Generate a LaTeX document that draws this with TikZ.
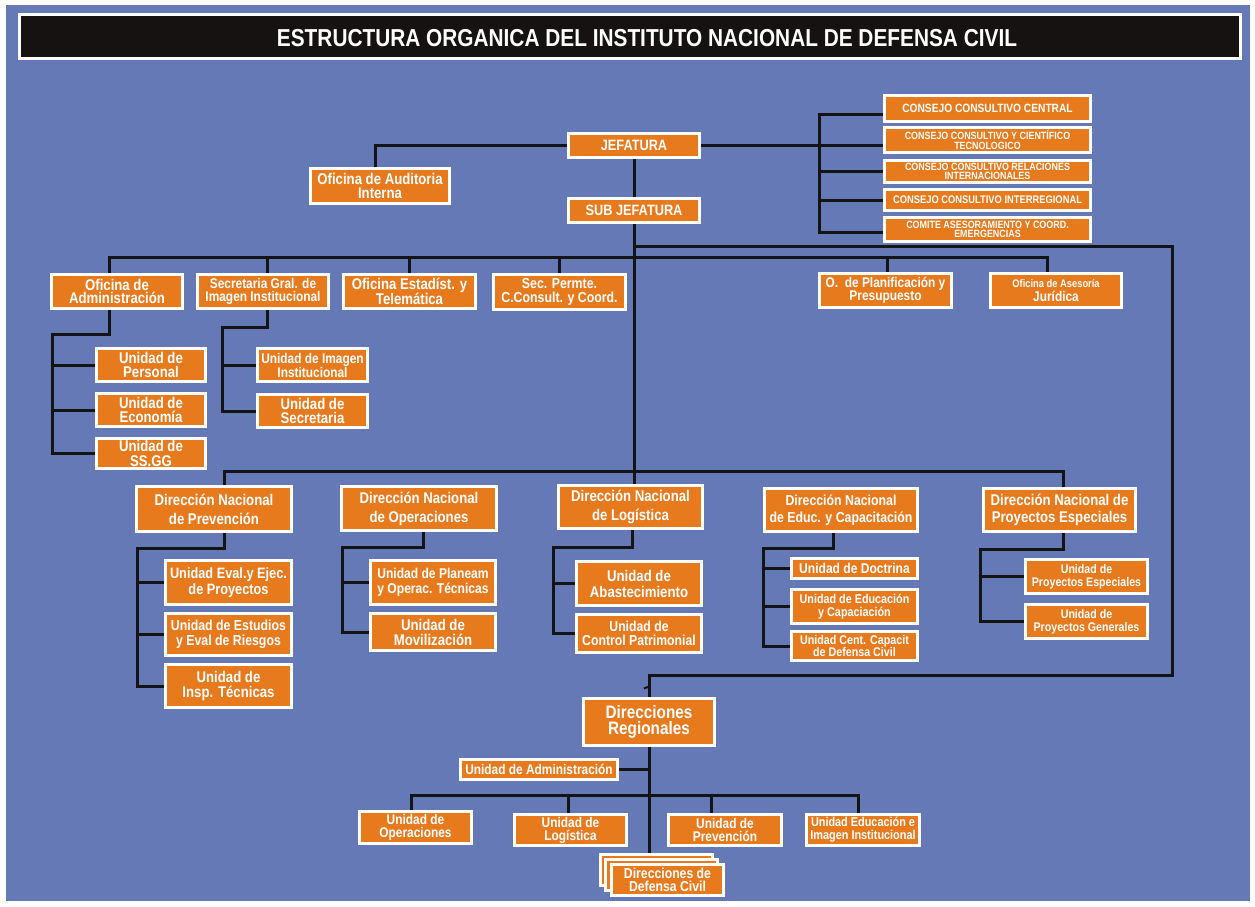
\documentclass[tikz,border=0pt]{standalone}
\usepackage{fontspec}
\newfontfamily\cf[FakeStretch=0.85]{Liberation Sans}
\usetikzlibrary{calc}
\definecolor{bgblue}{RGB}{100,121,181}
\definecolor{orng}{RGB}{232,122,30}
\definecolor{titlebk}{RGB}{22,18,18}
\pgfdeclarelayer{back}
\pgfdeclarelayer{lines}
\pgfsetlayers{back,lines,main}
\newcommand\bx[7][]{\node[ob,#1,minimum width={#5-#3-3},minimum height={#6-#4-3}] (#2) at ({(#3+#5)/2},{(#4+#6)/2}) {#7};}
\tikzset{
  ob/.style={draw=white,line width=3pt,fill=orng,text=white,inner sep=0pt,outer sep=0pt,align=center},
  fs/.style 2 args={font=\cf\bfseries\fontsize{#1}{#2}\selectfont},
  conn/.style={line width=3pt,draw=black!92}
}
\begin{document}
\begin{tikzpicture}[x=1pt,y=-1pt]
\useasboundingbox (0,0) rectangle (1255,906);
\begin{pgfonlayer}{back}
\fill[white] (0,0) rectangle (1255,906);
\fill[bgblue] (6,5) rectangle (1250,901);
\end{pgfonlayer}
% title
\node[draw=white,line width=3pt,fill=titlebk,minimum width=1221,minimum height=44,inner sep=0pt] (bar) at (630,36.5) {};
\node[fs={24.5}{28},text=white,inner sep=0pt] (title) at (647,38) {ESTRUCTURA ORGANICA DEL INSTITUTO NACIONAL DE DEFENSA CIVIL};
% top
\bx[fs={15}{15}]{jef}{567}{132}{701}{159}{JEFATURA}
\bx[fs={15}{15}]{sub}{567}{197}{701}{224}{SUB JEFATURA}
\bx[fs={15.5}{13.5}]{aud}{309}{167}{451}{205}{Oficina de Auditoria\\Interna}
\bx[fs={12}{12}]{c1}{883}{94}{1092}{123}{CONSEJO CONSULTIVO CENTRAL}
\bx[fs={10.5}{9.5}]{c2}{883}{126}{1092}{154}{CONSEJO CONSULTIVO Y CIENTÍFICO\\TECNOLOGICO}
\bx[fs={10.5}{9.5}]{c3}{883}{159}{1092}{184}{CONSEJO CONSULTIVO RELACIONES\\INTERNACIONALES}
\bx[fs={11}{11}]{c4}{883}{188}{1092}{212}{CONSEJO CONSULTIVO INTERREGIONAL}
\bx[fs={10.5}{9.5}]{c5}{883}{216}{1092}{243}{COMITE ASESORAMIENTO Y COORD.\\EMERGENCIAS}
% offices
\bx[fs={15.5}{13.5}]{adm}{50}{273}{184}{310}{Oficina de\\Administración}
\bx[fs={14}{13.5}]{sec}{196}{273}{330}{310}{Secretaria Gral. de\\Imagen Institucional}
\bx[fs={15.5}{13.5}]{est}{342}{273}{477}{310}{Oficina Estadíst. y\\Telemática}
\bx[fs={14.5}{13.5}]{per}{492}{273}{627}{311}{Sec. Permte.\\C.Consult. y Coord.}
\bx[fs={14}{13.5}]{pla}{818}{272}{953}{309}{O.~~de Planificación y\\Presupuesto}
\bx[fs={14}{13.5}]{jur}{989}{272}{1123}{309}{{\fontsize{11}{12}\selectfont Oficina de Asesoría}\\Jurídica}
% admin units
\bx[fs={15.5}{14.5}]{upers}{95}{347}{207}{383}{Unidad de\\Personal}
\bx[fs={15.5}{14.5}]{ueco}{95}{392}{207}{428}{Unidad de\\Economía}
\bx[fs={15.5}{14.5}]{ussg}{95}{437}{207}{470}{Unidad de\\SS.GG}
\bx[fs={14}{14}]{uimg}{256}{347}{369}{383}{Unidad de Imagen\\Institucional}
\bx[fs={15.5}{14.5}]{usec}{256}{393}{369}{429}{Unidad de\\Secretaria}
% direcciones nacionales
\bx[fs={15.5}{19}]{prev}{135}{485}{293}{533}{Dirección Nacional\\de Prevención}
\bx[fs={15.5}{19}]{ope}{340}{485}{498}{532}{Dirección Nacional\\de Operaciones}
\bx[fs={15.5}{19}]{log}{557}{484}{704}{530}{Dirección Nacional\\de Logística}
\bx[fs={14.5}{17.5}]{edu}{763}{487}{919}{533}{Dirección Nacional\\de Educ. y Capacitación}
\bx[fs={15.5}{17}]{proy}{982}{487}{1137}{533}{Dirección Nacional de\\Proyectos Especiales}
% units
\bx[fs={15}{15.5}]{pv1}{164}{559}{293}{606}{Unidad Eval.y Ejec.\\de Proyectos}
\bx[fs={14.5}{15}]{pv2}{164}{612}{293}{657}{Unidad de Estudios\\y Eval de Riesgos}
\bx[fs={15.5}{15.5}]{pv3}{164}{663}{293}{709}{Unidad de\\Insp. Técnicas}
\bx[fs={14.2}{15.5}]{op1}{369}{559}{497}{606}{Unidad de Planeam\\y Operac. Técnicas}
\bx[fs={15.5}{15}]{op2}{369}{612}{497}{652}{Unidad de\\Movilización}
\bx[fs={15.5}{16}]{lg1}{575}{560}{703}{607}{Unidad de\\Abastecimiento}
\bx[fs={14.4}{14.5}]{lg2}{575}{613}{703}{654}{Unidad de\\Control Patrimonial}
\bx[fs={14.2}{14}]{ed1}{790}{557}{919}{580}{Unidad de Doctrina}
\bx[fs={12.7}{13}]{ed2}{790}{588}{919}{625}{Unidad de Educación\\y Capaciación}
\bx[fs={12.6}{12.5}]{ed3}{790}{630}{919}{662}{Unidad Cent. Capacit\\de Defensa Civil}
\bx[fs={12.5}{13}]{pr1}{1024}{558}{1149}{595}{Unidad de\\Proyectos Especiales}
\bx[fs={12.5}{13}]{pr2}{1024}{603}{1149}{640}{Unidad de\\Proyectos Generales}
% regionales
\bx[fs={18}{16}]{dr}{582}{697}{716}{747}{Direcciones\\Regionales}
\bx[fs={14}{14}]{ua}{459}{758}{619}{781}{Unidad de Administración}
\bx[fs={14}{13}]{uo}{358}{810}{473}{845}{Unidad de\\Operaciones}
\bx[fs={14}{13}]{ul}{513}{813}{628}{847}{Unidad de\\Logística}
\bx[fs={14}{13}]{up}{667}{813}{783}{847}{Unidad de\\Prevención}
\bx[fs={12.8}{13}]{ue}{805}{813}{921}{847}{Unidad Educación e\\Imagen Institucional}
\bx{ddc3}{599}{853}{714}{887}{}
\bx{ddc2}{604}{858}{719}{892}{}
\bx[fs={14.4}{13.5}]{ddc}{610}{863}{725}{897}{Direcciones de\\Defensa Civil}
% connectors
\begin{pgfonlayer}{lines}
\draw[conn] (jef.west) -| ([xshift=-5pt]aud.north);
\draw[conn] (jef.south) -- (sub.north);
\draw[conn] (jef.east) -- (jef.east -| c2.west);
\coordinate (cx) at (819,0);
\draw[conn] ([yshift=-6pt]c1.west) -- ([yshift=-6pt]c1.west -| cx) -- ([yshift=-3pt]c5.west -| cx) -- ([yshift=-3pt]c5.west);
\draw[conn] (c3.west -| cx) -- (c3.west);
\draw[conn] (c4.west -| cx) -- (c4.west);
\draw[conn] (sub.south) -- (sub.south |- log.north);
\coordinate (ob) at (0,257);
\draw[conn] ([xshift=-8pt]adm.north) -- ([xshift=-8pt]adm.north |- ob) -- ([xshift=-9pt]jur.north |- ob) -- ([xshift=-9pt]jur.north);
\draw[conn] ([xshift=4pt]sec.north |- ob) -- ([xshift=4pt]sec.north);
\draw[conn] (est.north |- ob) -- (est.north);
\draw[conn] (per.north |- ob) -- (per.north);
\draw[conn] ([xshift=2pt]pla.north |- ob) -- ([xshift=2pt]pla.north);
\coordinate (rr) at (1172,246);
\coordinate (rb) at (1172,675);
\draw[conn] (sub.south |- rr) -- (rr) -- (rb) -- (rb -| dr.north) -- (dr.north);
\draw[conn,line width=2pt] ([xshift=-5pt,yshift=10pt]dr.north) -- ([yshift=12pt]dr.north);
\coordinate (a1) at (52,334);
\draw[conn] ([xshift=-8pt]adm.south) -- ([xshift=-8pt]adm.south |- a1) -- (a1) -- (a1 |- ussg.west) -- (ussg.west);
\draw[conn] (a1 |- upers.west) -- (upers.west);
\draw[conn] (a1 |- ueco.west) -- (ueco.west);
\coordinate (s1) at (222,327);
\draw[conn] ([xshift=4pt]sec.south) -- ([xshift=4pt]sec.south |- s1) -- (s1) -- (s1 |- usec.west) -- (usec.west);
\draw[conn] (s1 |- uimg.west) -- (uimg.west);
\coordinate (db) at (0,471);
\draw[conn] ([xshift=10pt]prev.north) -- ([xshift=10pt]prev.north |- db) -- ([xshift=3.5pt]proy.north |- db) -- ([xshift=3.5pt]proy.north);
\coordinate (p1) at (137,548);
\draw[conn] ([xshift=10pt]prev.south) -- ([xshift=10pt]prev.south |- p1) -- (p1) -- (p1 |- pv3.west) -- (pv3.west);
\draw[conn] (p1 |- pv1.west) -- (pv1.west);
\draw[conn] (p1 |- pv2.west) -- (pv2.west);
\coordinate (o1) at (342,547);
\draw[conn] ([xshift=4pt]ope.south) -- ([xshift=4pt]ope.south |- o1) -- (o1) -- (o1 |- op2.west) -- (op2.west);
\draw[conn] (o1 |- op1.west) -- (op1.west);
\coordinate (l1) at (553,547);
\draw[conn] ([xshift=2pt]log.south) -- ([xshift=2pt]log.south |- l1) -- (l1) -- (l1 |- lg2.west) -- (lg2.west);
\draw[conn] (l1 |- lg1.west) -- (lg1.west);
\coordinate (e1) at (763,548);
\draw[conn] ([xshift=-8pt]edu.south) -- ([xshift=-8pt]edu.south |- e1) -- (e1) -- (e1 |- ed3.west) -- (ed3.west);
\draw[conn] (e1 |- ed1.west) -- (ed1.west);
\draw[conn] (e1 |- ed2.west) -- (ed2.west);
\coordinate (q1) at (980,549);
\draw[conn] ([xshift=3.5pt]proy.south) -- ([xshift=3.5pt]proy.south |- q1) -- (q1) -- (q1 |- pr2.west) -- (pr2.west);
\draw[conn] (q1 |- pr1.west) -- (pr1.west);
\draw[conn] (dr.south) -- (dr.south |- ddc3.north);
\draw[conn] (dr.south |- ua.east) -- (ua.east);
\coordinate (bb) at (0,795);
\draw[conn] ([xshift=-4.5pt]uo.north) -- ([xshift=-4.5pt]uo.north |- bb) -- ([xshift=-5pt]ue.north |- bb) -- ([xshift=-5pt]ue.north);
\draw[conn] ([xshift=-2.5pt]ul.north |- bb) -- ([xshift=-2.5pt]ul.north);
\draw[conn] ([xshift=-14pt]up.north |- bb) -- ([xshift=-14pt]up.north);
\end{pgfonlayer}
\end{tikzpicture}
\end{document}
